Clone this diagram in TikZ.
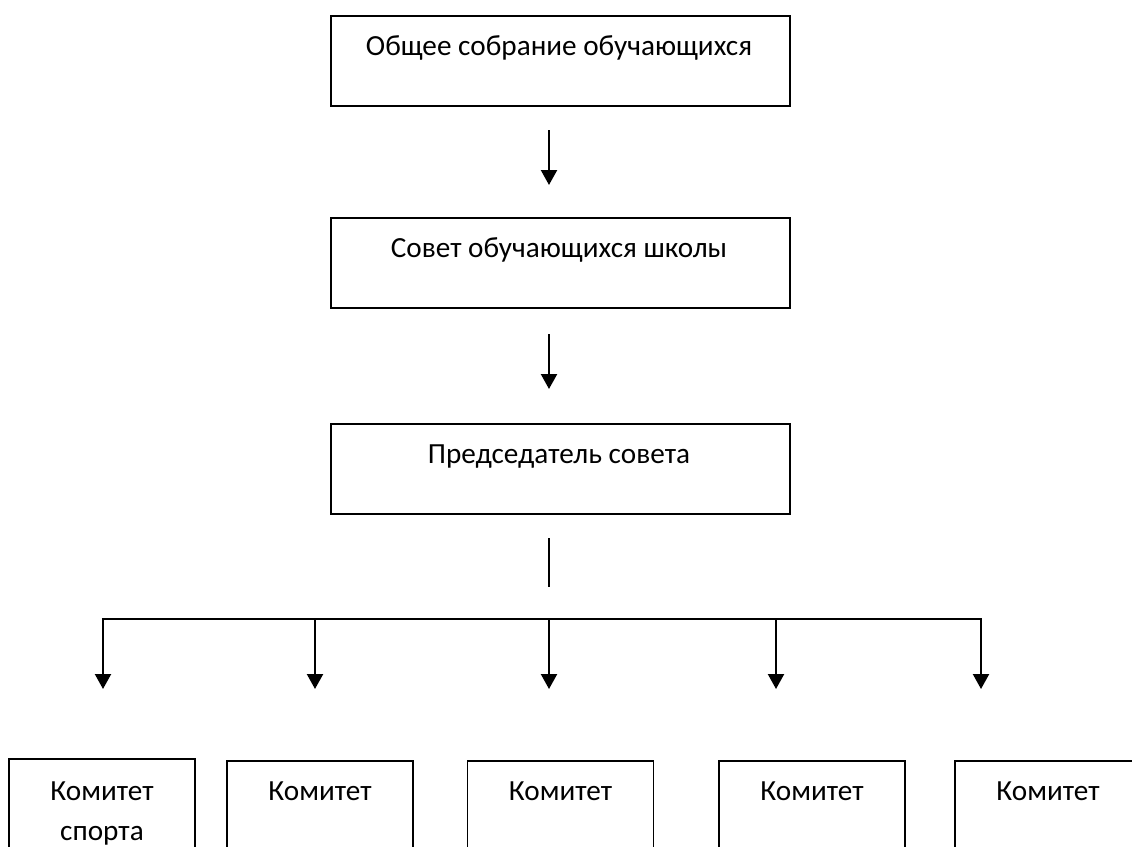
\documentclass[tikz,border=0pt]{standalone}
\usepackage{fontspec}
\setmainfont{Carlito}
\usetikzlibrary{arrows.meta}
\tikzset{
  box/.style={draw=black, line width=1.8pt, minimum width=459pt, minimum height=90pt, inner sep=0pt, anchor=north},
  cbox/.style={draw=black, line width=1.8pt, minimum width=186pt, minimum height=110pt, inner sep=0pt, anchor=north},
  txt/.style={font=\fontsize{29.2}{40}\selectfont, anchor=base, inner sep=0pt, align=center},
  arr/.style={line width=2.2pt, -{Triangle[width=16pt,length=15pt]}},
  plain/.style={line width=1.6pt},
  bus/.style={line width=2.2pt},
}
\begin{document}
\begin{tikzpicture}[x=1pt,y=-1pt]
\useasboundingbox (0,0) rectangle (1132,846);
\clip (0,0) rectangle (1132,846);
% main boxes
\node[box] (b1) at (560.5,15) {};
\node[box] (b2) at (560.5,217) {};
\node[box] (b3) at (560.5,423) {};
\node[txt] (t1) at (559,55) {Общее собрание обучающихся};
\node[txt] (t2) at (559,257) {Совет обучающихся школы};
\node[txt] (t3) at (559,463) {Председатель совета};
% vertical arrows
\coordinate (a1s) at (549,130);
\coordinate (a1e) at (549,185);
\coordinate (a2s) at (549,334);
\coordinate (a2e) at (549,389);
\draw[arr] (a1s) -- (a1e);
\draw[arr] (a2s) -- (a2e);
\coordinate (ls) at (549,538);
\coordinate (le) at (549,587);
\draw[plain] (ls) -- (le);
% bus
\coordinate (h1) at (103,619);
\coordinate (h2) at (315,619);
\coordinate (h3) at (549,619);
\coordinate (h4) at (776,619);
\coordinate (h5) at (981,619);
\draw[bus] ([xshift=-1.1pt]h1) -- ([xshift=1.1pt]h5);
\coordinate (d1) at (103,689);
\coordinate (d2) at (315,689);
\coordinate (d3) at (549,689);
\coordinate (d4) at (776,689);
\coordinate (d5) at (981,689);
\foreach \i in {1,...,5} {
  \draw[arr] (h\i) -- (d\i);
}
% committee boxes
\node[cbox] (c1) at (102,758) {};
\node[cbox] (c2) at (320,760) {};
\node[cbox] (c3) at (560.5,760) {};
\node[cbox] (c4) at (812,760) {};
\node[cbox] (c5) at (1048,760) {};
\node[txt] (k1) at (102,840) {Комитет\\спорта};
\node[txt] (k2) at (320,800) {Комитет};
\node[txt] (k3) at (560.5,800) {Комитет};
\node[txt] (k4) at (812,800) {Комитет};
\node[txt] (k5) at (1048,800) {Комитет};
\end{tikzpicture}
\end{document}
